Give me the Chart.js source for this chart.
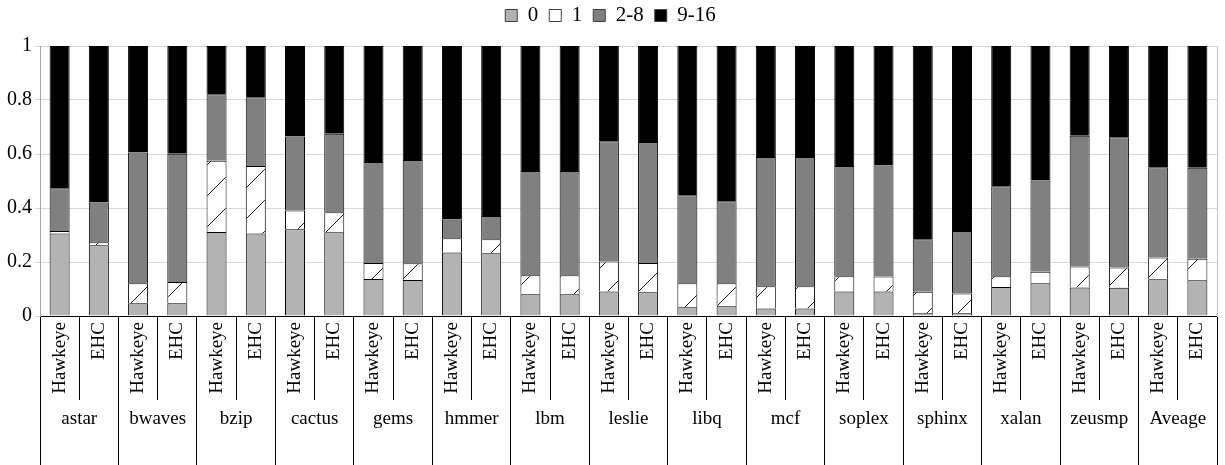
<!DOCTYPE html>
<html>
<head>
<meta charset="utf-8">
<script src="https://cdn.jsdelivr.net/npm/chart.js@4/dist/chart.umd.min.js"></script>
<style>
  html, body { margin: 0; padding: 0; background: #fff; }
  .wrap { width: 1225px; height: 465px; }
</style>
</head>
<body>
<div class="wrap"><canvas id="graf"></canvas></div>
<script>
const groups = ['astar', 'bwaves', 'bzip', 'cactus', 'gems', 'hmmer', 'lbm', 'leslie',
                'libq', 'mcf', 'soplex', 'sphinx', 'xalan', 'zeusmp', 'Aveage'];
const schemes = ['Hawkeye', 'EHC'];
const yTicks = [0, 0.2, 0.4, 0.6, 0.8, 1];

// fractions per bar, order: astar H, astar E, bwaves H, bwaves E, ...
const s0 = [0.306, 0.262, 0.047, 0.047, 0.311, 0.306, 0.321, 0.310, 0.137, 0.133,
            0.235, 0.232, 0.081, 0.081, 0.091, 0.088, 0.032, 0.036, 0.028, 0.028,
            0.091, 0.091, 0.010, 0.010, 0.107, 0.121, 0.106, 0.105, 0.136, 0.132];
const s1 = [0.009, 0.011, 0.074, 0.079, 0.264, 0.250, 0.070, 0.074, 0.059, 0.062,
            0.053, 0.052, 0.070, 0.070, 0.111, 0.108, 0.089, 0.085, 0.082, 0.082,
            0.056, 0.055, 0.080, 0.073, 0.040, 0.043, 0.077, 0.075, 0.081, 0.080];
const s28 = [0.158, 0.147, 0.485, 0.475, 0.246, 0.254, 0.274, 0.291, 0.374, 0.383,
             0.069, 0.086, 0.386, 0.386, 0.445, 0.448, 0.326, 0.304, 0.479, 0.479,
             0.409, 0.411, 0.194, 0.232, 0.334, 0.338, 0.485, 0.482, 0.334, 0.337];
const s916 = [0.527, 0.580, 0.394, 0.399, 0.179, 0.190, 0.335, 0.325, 0.430, 0.422,
              0.643, 0.630, 0.463, 0.463, 0.353, 0.356, 0.553, 0.575, 0.411, 0.411,
              0.444, 0.443, 0.716, 0.685, 0.519, 0.498, 0.332, 0.338, 0.449, 0.451];

const labels = [];
groups.forEach(() => schemes.forEach(s => labels.push(s)));

// white with sparse "/" hatch
function hatch() {
    const c = document.createElement('canvas');
    c.width = 31; c.height = 31;
    const g = c.getContext('2d');
    g.fillStyle = '#fff';
    g.fillRect(0, 0, 31, 31);
    g.strokeStyle = '#000';
    g.lineWidth = 0.9;
    g.beginPath();
    g.moveTo(-2, 33); g.lineTo(33, -2);
    g.stroke();
    return g.createPattern(c, 'repeat');
}

// extra room between legend and plot
const legendGap = {
    id: 'legendGap',
    beforeInit(chart) {
        const fit = chart.legend.fit;
        chart.legend.fit = function () {
            fit.call(this);
            this.height += 10;
        };
    }
};

const serif = "'Liberation Serif', serif";
const font = { family: serif, size: 19 };
const ctx = document.querySelector('#graf');

let myChart = new Chart(ctx, {
    type: 'bar',
    data: {
        labels: labels,
        datasets: [
            { label: '0', data: s0, backgroundColor: '#b3b3b3' },
            { label: '1', data: s1, backgroundColor: hatch() },
            { label: '2-8', data: s28, backgroundColor: '#808080' },
            { label: '9-16', data: s916, backgroundColor: '#000000' }
        ].map(d => Object.assign(d, {
            borderColor: '#000', borderWidth: 1,
            barPercentage: 0.51, categoryPercentage: 1
        }))
    },
    plugins: [legendGap],
    options: {
        responsive: true,
        maintainAspectRatio: false,
        animation: false,
        layout: { padding: { left: 4, right: 8, top: -6, bottom: 0 } },
        plugins: {
            tooltip: { enabled: false },
            legend: {
                position: 'top',
                labels: {
                    font: { family: serif, size: 21 },
                    color: '#000',
                    boxWidth: 12, boxHeight: 12,
                    padding: 11,
                    generateLabels: (chart) => {
                        const items = Chart.defaults.plugins.legend.labels.generateLabels(chart);
                        items.forEach(it => {
                            if (typeof it.fillStyle !== 'string') it.fillStyle = '#fff';
                            it.lineWidth = 1;
                            it.strokeStyle = '#404040';
                        });
                        return items;
                    }
                }
            }
        },
        scales: {
            x: {
                stacked: true,
                weight: 0,
                afterFit: (axis) => { axis.height = 84; },
                grid: { offset: true, drawOnChartArea: false, color: '#000', tickLength: 84 },
                border: { display: true, color: '#000' },
                ticks: { font: font, color: '#000', maxRotation: 90, minRotation: 90,
                         autoSkip: false, padding: -78 }
            },
            x2: {
                type: 'category',
                labels: groups,
                position: 'bottom',
                weight: 1,
                offset: true,
                afterFit: (axis) => { axis.height = 65; },
                grid: { offset: true, drawOnChartArea: false, color: '#000', tickLength: 66 },
                border: { display: false },
                ticks: { font: font, color: '#000', maxRotation: 0, minRotation: 0,
                         autoSkip: false, padding: -58 }
            },
            y: {
                stacked: true,
                min: 0,
                max: 1,
                afterBuildTicks: (axis) => { axis.ticks = yTicks.map(v => ({ value: v })); },
                grid: { color: '#d9d9d9', tickLength: 5 },
                border: { color: '#a6a6a6' },
                ticks: { font: { family: serif, size: 20 }, color: '#000', padding: 3,
                         callback: (v) => String(+(+v).toFixed(1)) }
            },
            y2: {
                position: 'right',
                min: 0,
                max: 1,
                grid: { drawOnChartArea: false, drawTicks: false },
                border: { color: '#c8c8c8' },
                ticks: { display: false }
            }
        }
    }
});
</script>
</body>
</html>
